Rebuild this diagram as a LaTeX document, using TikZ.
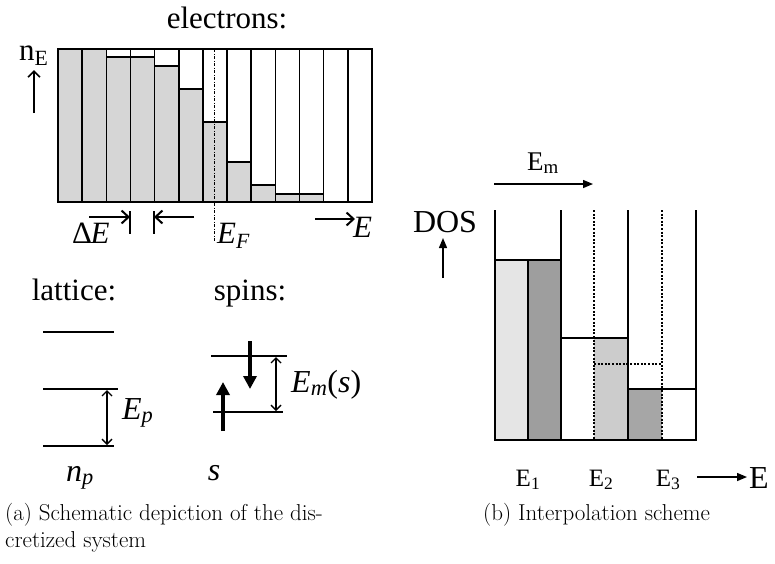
\documentclass[tikz,border=0pt]{standalone}
\usepackage{fontspec}
\setmainfont{Liberation Serif}
\newfontfamily\capfont{Latin Modern Roman}
\usetikzlibrary{arrows.meta}
\newcommand\Fsz[1]{\fontsize{#1}{#1}\selectfont}
\begin{document}
\begin{tikzpicture}[x=1pt,y=-1pt,
  lbl/.style={inner sep=0pt, anchor=base},
  egray/.style={fill=black!16},
  lev/.style={line width=1.4pt},
  boxln/.style={line width=1.8pt},
  divln/.style={line width=1.5pt},
  lvl/.style={line width=2.4pt},
  dbl/.style={line width=1.4pt,{Straight Barb[length=5pt,width=10pt]}-{Straight Barb[length=5pt,width=10pt]}},
  barb/.style={line width=2pt,-{Straight Barb[length=7pt,width=13pt]}},
  tick/.style={line width=1.1pt},
  spinarr/.style={line width=4.2pt,-{Triangle[length=13pt,width=13pt]}},
  thinarr/.style={line width=1.4pt,-{Triangle[length=10pt,width=8pt]}},
  dosln/.style={line width=2pt},
  dotln/.style={line width=2.8pt,dash pattern=on 2pt off 1.6pt},
  thinln/.style={line width=1.1pt}]
\useasboundingbox (0,0) rectangle (775,563);

% ---------------- electrons ----------------
\node[lbl] (elec) at (227,28) {\Fsz{31}electrons:};
\node[lbl,anchor=base west] (nE) at (19,60) {\Fsz{31}n\textsubscript{E}};
\coordinate (nEa) at (34,113);
\coordinate (nEb) at (34,70);
\draw[line width=1.6pt,-{Straight Barb[length=6pt,width=12pt]}] (nEa) -- (nEb);

\def\xo{58}\def\cw{24.1538}
\foreach \i/\l in {0/49,1/49,2/57,3/57,4/66,5/89,6/122,7/162,8/185,9/194,10/194}{
  \fill[egray] ({\xo+\i*\cw},\l) rectangle ({\xo+(\i+1)*\cw},202);
  \draw[lev] ({\xo+\i*\cw},\l) -- ({\xo+(\i+1)*\cw},\l);
}
\draw[boxln] (58,49) rectangle (372,202);
\foreach \i in {1,...,12} \draw[divln] ({\xo+\i*\cw},49) -- ({\xo+\i*\cw},202);
\coordinate (efa) at (214.6,49);
\coordinate (efb) at (214.6,242);
\draw[line width=1.3pt,dash pattern=on 3pt off 1.5pt on 1pt off 1.5pt] (efa) -- (efb);

% Delta E markers
\coordinate (t1a) at (130,211); \coordinate (t1b) at (130,234);
\coordinate (t2a) at (154,211); \coordinate (t2b) at (154,234);
\draw[tick] (t1a) -- (t1b);
\draw[tick] (t2a) -- (t2b);
\coordinate (d1s) at (89,217); \coordinate (d1e) at (130,217);
\coordinate (d2s) at (194,217); \coordinate (d2e) at (154,217);
\draw[barb] (d1s) -- (d1e);
\draw[barb] (d2s) -- (d2e);
\node[lbl,anchor=base west] (dE) at (72,243) {\Fsz{31}Δ\kern-1.5pt\itshape E};
\node[lbl,anchor=base west] (EF) at (217,243) {\Fsz{31}\itshape E\textsubscript{F}};
\coordinate (ea) at (315,219); \coordinate (eb) at (355,219);
\draw[barb] (ea) -- (eb);
\node[lbl,anchor=base west] (Eax) at (353,237) {\Fsz{31}\itshape E};

% ---------------- lattice ----------------
\node[lbl] (lat) at (74,300) {\Fsz{31}lattice:};
\coordinate (l1a) at (43,332); \coordinate (l1b) at (114,332);
\coordinate (l2a) at (43,389); \coordinate (l2b) at (118,389);
\coordinate (l3a) at (43,446); \coordinate (l3b) at (114,446);
\draw[lvl] (l1a) -- (l1b);
\draw[lvl] (l2a) -- (l2b);
\draw[lvl] (l3a) -- (l3b);
\coordinate (epa) at (107,390); \coordinate (epb) at (107,445);
\draw[dbl] (epa) -- (epb);
\node[lbl,anchor=base west] (Ep) at (122,419) {\Fsz{32}\itshape E\textsubscript{p}};
\node[lbl] (np) at (80,481) {\Fsz{32}\itshape n\textsubscript{p}};

% ---------------- spins ----------------
\node[lbl] (spn) at (250,300) {\Fsz{31}spins:};
\coordinate (s1a) at (211,356); \coordinate (s1b) at (287,356);
\coordinate (s2a) at (213,412); \coordinate (s2b) at (283,412);
\draw[lvl] (s1a) -- (s1b);
\draw[lvl] (s2a) -- (s2b);
\coordinate (ema) at (276,357); \coordinate (emb) at (276,411);
\draw[dbl] (ema) -- (emb);
\node[lbl,anchor=base west] (Em) at (291,392) {\Fsz{32}\itshape E\textsubscript{m}\upshape(\itshape s\upshape)};
\coordinate (dna) at (250,341); \coordinate (dnb) at (250,389);
\draw[spinarr] (dna) -- (dnb);
\coordinate (upa) at (223,431); \coordinate (upb) at (223,382);
\draw[spinarr] (upa) -- (upb);
\node[lbl] (sl) at (214,480) {\Fsz{32}\itshape s};

% ---------------- DOS panel ----------------
\node[lbl] (Emlab) at (543,170) {\Fsz{27}E\textsubscript{m}};
\coordinate (ema2) at (494,184); \coordinate (emb2) at (593,184);
\draw[thinarr] (ema2) -- (emb2);
\node[lbl] (dos) at (445,232) {\Fsz{32}DOS};
\coordinate (da) at (443,278); \coordinate (db) at (443,238);
\draw[thinarr] (da) -- (db);

\fill[black!10] (495,260) rectangle (528,440);
\fill[black!38] (528,260) rectangle (561,440);
\fill[black!20] (594,338) rectangle (628,440);
\fill[black!35] (628,389) rectangle (662,440);

\draw[thinln] (495,260) -- (561,260);
\draw[thinln] (528,260) -- (528,440);
\draw[thinln] (561,338) -- (628,338);
\draw[thinln] (628,389) -- (696,389);
\draw[dotln] (594,364) -- (662,364);
\draw[dotln] (594,210) -- (594,440);
\draw[dotln] (662,210) -- (662,440);
\foreach \x in {495,561,628,696} \draw[dosln] (\x,210) -- (\x,440);
\draw[dosln] (494,440) -- (697,440);

\node[lbl] (E1) at (528,486) {\Fsz{25}E\textsubscript{1}};
\node[lbl] (E2) at (601,486) {\Fsz{25}E\textsubscript{2}};
\node[lbl] (E3) at (668,486) {\Fsz{25}E\textsubscript{3}};
\coordinate (xa) at (697,477); \coordinate (xb) at (747,477);
\draw[thinarr] (xa) -- (xb);
\node[lbl,anchor=base west] (Ebig) at (749,488) {\Fsz{32}E};

% ---------------- captions ----------------
\node[lbl,anchor=base west] (capa1) at (5,520) {\capfont\Fsz{23}(a) Schematic depiction of the dis-};
\node[lbl,anchor=base west] (capa2) at (5,547) {\capfont\Fsz{23}cretized system};
\node[lbl,anchor=base west] (capb) at (483,520) {\capfont\Fsz{23}(b) Interpolation scheme};
\end{tikzpicture}
\end{document}
